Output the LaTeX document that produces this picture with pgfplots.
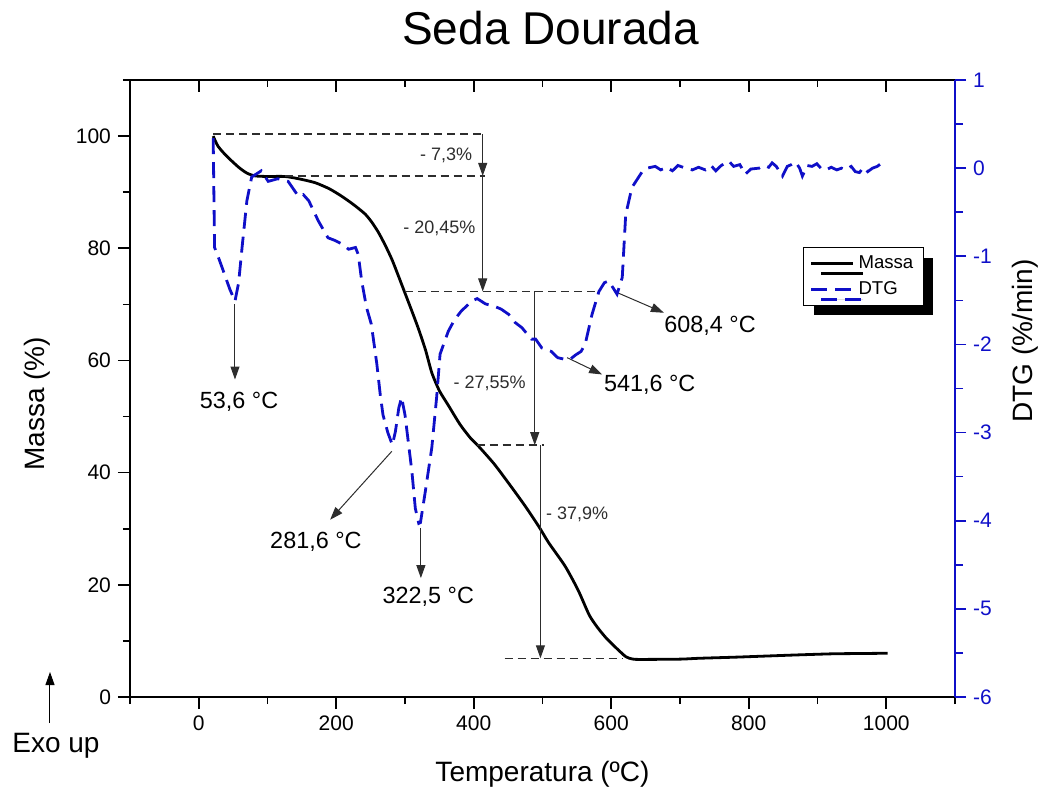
\documentclass[border=0pt]{standalone}
\usepackage{fontspec}
\setmainfont{Liberation Sans}
\usepackage{pgfplots}
\pgfplotsset{compat=1.18}
\usetikzlibrary{arrows.meta,shadows}
\definecolor{dtgblue}{RGB}{15,15,200}
\definecolor{anno}{RGB}{45,45,45}

\begin{document}
\begin{tikzpicture}
\path[use as bounding box] (-65pt,-47.5pt) rectangle (459pt,348.5pt);
\pgfplotsset{
  every axis/.append style={
    scale only axis, width=412.5pt, height=308.5pt,
    at={(0,0)}, anchor=south west,
    xmin=-100, xmax=1100,
    /pgf/number format/assume math mode=true,
    /pgf/number format/1000 sep={},
    tick label style={font=\fontsize{10.5}{12}\selectfont},
    major tick length=6pt, minor tick length=3.5pt,
    tick style={line width=0.8pt},
  },
}
\tikzset{
  hl/.style={anno, line width=0.75pt, dash pattern=on 4pt off 2.5pt},
  arr/.style={anno, line width=0.5pt, -{Triangle[length=6.5pt,width=4.5pt]}},
  tlab/.style={font=\fontsize{11.7}{13}\selectfont},
  plab/.style={anno, font=\fontsize{9}{10}\selectfont},
}

% ---------- Mass axis ----------
\begin{axis}[
  ymin=0, ymax=110, tick align=outside,
  xtick={0,200,...,1000}, minor xtick={-100,100,...,1100},
  ytick={0,20,...,100}, minor ytick={10,30,...,110},
  xtick pos=bottom, ytick pos=left,
  axis line style={line width=1pt},
  tick style={black},
  xlabel={Temperatura (ºC)}, ylabel={Massa (\%)},
  label style={font=\fontsize{14}{16}\selectfont},
  xlabel style={at={(axis description cs:0.5,-0.126)}, anchor=center},
  ylabel style={at={(axis description cs:-0.113,0.475)}, anchor=center},
]
% inward ticks on the top edge
\pgfplotsinvokeforeach{0,200,...,1000}{\draw[black,line width=0.8pt] (axis cs:#1,110) -- ++(0pt,-6pt);}
\pgfplotsinvokeforeach{100,300,...,900}{\draw[black,line width=0.8pt] (axis cs:#1,110) -- ++(0pt,-3.5pt);}

\addplot[black, line width=1.4pt, smooth, tension=0.4] coordinates {
(21,100) (28,98.2) (40,96.5) (57.5,94.5) (70,93.4) (82,92.9) (100,92.8)
(125,92.8) (145,92.4) (169,91.7) (190,90.6) (207.6,89.3) (225,87.8)
(242,86.1) (252,84.6) (261.5,82.8) (271,80.6) (281,78) (290,75.2)
(300,72) (310,68.8) (320,65.5) (330,61.8) (339,57.8) (350,54.6)
(363,52) (380,48.6) (395,46.2) (407,44.7) (430,41.5) (455,37.4)
(475,34) (494.6,30.4) (509,27.5) (533,23.3) (552,19) (568,14.6)
(580,12.4) (592,10.6) (605,9.0) (621,7.2) (630,6.8) (640,6.7)
(700,6.75) (727,6.9) (780,7.1) (825,7.3) (870,7.5) (922,7.7)
(960,7.75) (1002,7.8)
};

% step annotations
\draw[hl] (axis cs:21,100.36) -- (axis cs:417,100.36);
\draw[hl] (axis cs:125,92.9) -- (axis cs:417,92.9);
\draw[hl] (axis cs:300,72.3) -- (axis cs:577.5,72.3);
\draw[hl] (axis cs:404,44.9) -- (axis cs:502,44.9);
\draw[hl] (axis cs:445,6.9) -- (axis cs:615.5,6.9);
\draw[arr] (axis cs:413,100.36) -- (axis cs:413,92.9);
\draw[arr] (axis cs:413,92.9) -- (axis cs:413,72.3);
\draw[arr] (axis cs:488.7,72.3) -- (axis cs:488.7,44.9);
\draw[arr] (axis cs:497,44.9) -- (axis cs:497,6.9);
\node[plab] at (axis cs:359.8,96.5) {- 7,3\%};
\node[plab] at (axis cs:350,83.6) {- 20,45\%};
\node[plab] at (axis cs:423,56.0) {- 27,55\%};
\node[plab] at (axis cs:550.4,32.5) {- 37,9\%};

% peak annotations
\draw[arr] (axis cs:52.7,70) -- (axis cs:52.7,56.6);
\node[tlab] at (axis cs:58.7,52.7) {53,6 °C};
\draw[arr] (axis cs:280.8,43.8) -- (axis cs:191.1,31.6);
\node[tlab] at (axis cs:170.4,27.6) {281,6 °C};
\draw[arr] (axis cs:323.1,30.1) -- (axis cs:323.1,21.2);
\node[tlab] at (axis cs:333.9,17.9) {322,5 °C};
\draw[arr] (axis cs:535.8,60.5) -- (axis cs:586.7,57.5);
\node[tlab] at (axis cs:656,55.7) {541,6 °C};
\draw[arr] (axis cs:608.6,72.1) -- (axis cs:676.6,68.5);
\node[tlab] at (axis cs:743.7,66.1) {608,4 °C};
\end{axis}

% ---------- DTG axis ----------
\begin{axis}[
  ymin=-6, ymax=1, tick align=outside,
  hide x axis, axis y line*=right,
  ytick={-6,-5,...,1}, minor ytick={-5.5,-4.5,...,0.5},
  y axis line style={dtgblue, line width=1.2pt},
  yticklabel style={dtgblue},
  y tick style={dtgblue},
  major tick length=5.5pt, minor tick length=4pt,
  ylabel={DTG (\%/min)},
  ylabel style={font=\fontsize{14}{16}\selectfont, at={(axis description cs:1.085,0.577)}, anchor=center},
  legend style={at={(0.816,0.729)}, anchor=north west, draw=black, line width=0.5pt,
    fill=white, font=\fontsize{9.3}{11}\selectfont,
    drop shadow={shadow xshift=5pt, shadow yshift=-5pt, fill=black, opacity=1},
    inner xsep=3pt, inner ysep=2pt, row sep=1pt},
  legend cell align=left,
  legend image code/.code={\draw[#1] (0pt,0pt) -- (21pt,0pt);},
]
\addlegendimage{black, line width=1.4pt}
\addlegendentry{Massa}
\addplot[dtgblue, line width=1.4pt, dash pattern=on 8pt off 4pt] coordinates {
(21,0.34) (23,-0.9) (28,-1.0) (35,-1.15) (45,-1.37) (52.7,-1.51) (58,-1.3)
(63,-0.9) (70,-0.37) (77,-0.1) (91,-0.03) (101,-0.15) (115,-0.12) (130,-0.15)
(145,-0.32) (152,-0.30) (160,-0.37) (174,-0.6) (188,-0.79) (198,-0.82)
(208,-0.86) (218,-0.92) (228,-0.9) (232,-0.98) (237,-1.28) (244,-1.58)
(251,-1.77) (259,-2.22) (264,-2.57) (268,-2.8) (275,-3.0) (281.6,-3.14)
(286,-2.99) (291,-2.72) (295,-2.6) (300,-2.8) (310,-3.44) (315,-3.86)
(320,-4.03) (322.5,-4.02) (329.5,-3.67) (339,-3.17) (346,-2.6) (351,-2.11)
(363,-1.85) (372,-1.72) (382,-1.62) (397,-1.51) (405,-1.48) (417,-1.54)
(431,-1.57) (440,-1.6) (451,-1.66) (460,-1.75) (470,-1.81) (484,-1.94)
(490,-1.94) (499,-2.04) (513,-2.08) (522,-2.15) (533,-2.17) (541.6,-2.16)
(548,-2.12) (556,-2.08) (562,-2.0) (572,-1.66) (582,-1.4) (590,-1.3)
(596,-1.28) (602,-1.35) (608.4,-1.43) (616,-1.24) (621,-0.53) (630,-0.22)
(645,-0.04) (652,0.0) (664,0.02) (672,-0.02) (680,0.01) (689,-0.03)
(697,0.03) (708,0.0) (718,-0.02) (727,0.01) (737,-0.02) (745,0.03)
(752,-0.03) (760,0.03) (771,0.08) (778,0.02) (787,0.04) (795,-0.07)
(803,-0.01) (815,0.0) (822,0.03) (829,0.01) (834,0.06) (840,0.02)
(849,-0.09) (856,0.02) (862,0.04) (868,0.07) (874,0.0) (878,-0.09)
(885,0.03) (892,0.02) (899,0.05) (906,-0.01) (912,-0.02) (920,0.01)
(928,-0.02) (935,0.0) (941,-0.02) (949,0.02) (955,-0.04) (961,-0.05)
(967,0.01) (973,-0.04) (980,0.0) (987,0.02) (992,0.05) (997,0.08)
};
\addlegendentry{DTG}
\end{axis}

% ---------- title and Exo up ----------
\node[font=\fontsize{23}{27}\selectfont] at (210.25pt,334.5pt) {Seda Dourada};
\draw[black, line width=0.5pt, -{Triangle[length=6.5pt,width=4.5pt]}] (-40pt,-13pt) -- (-40pt,12.5pt);
\node[font=\fontsize{14}{16}\selectfont] at (-37pt,-24.5pt) {Exo up};
\end{tikzpicture}
\end{document}
